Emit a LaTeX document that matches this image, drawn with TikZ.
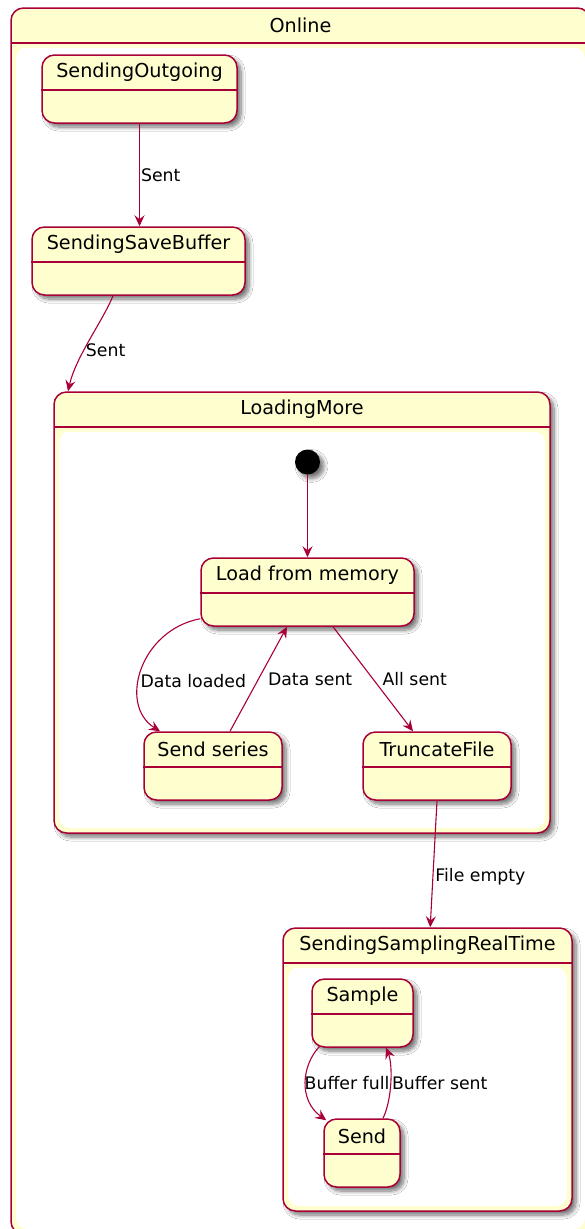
\documentclass[tikz,border=0pt]{standalone}
\usepackage{fontspec}
\setmainfont{DejaVu Sans}
\usetikzlibrary{arrows.meta,shadows.blur}
\definecolor{umlfill}{HTML}{FEFECE}
\definecolor{umlline}{HTML}{A80036}

% one simple state: name, left, top, right, title
\newcommand{\umlstate}[5]{%
  \node[statebox, minimum width={(#4-#2)*1pt}] (#1) at ({(#2+#4)/2},#3+34) {};
  \draw[divider] ([yshift=-35.5pt]#1.north west) -- ([yshift=-35.5pt]#1.north east);
  \node[title] at ([yshift=-18pt]#1.north) {#5};
}
% one composite state: name, left, top, right, bottom, title
\newcommand{\compositestate}[6]{%
  \node[compbox, minimum width={(#4-#2)*1pt}, minimum height={(#5-#3)*1pt}]
    (#1) at ({(#2+#4)/2},{(#3+#5)/2}) {};
  \fill[white, rounded corners=11pt] (#2+5,#3+39.5) rectangle (#4-5,#5-5);
  \draw[divider] (#2,#3+35) -- (#4,#3+35);
  \node[title] at ({(#2+#4)/2},#3+17.5) {#6};
}

\begin{document}
\begin{tikzpicture}[x=1pt, y=-1pt]
  % Style definitions
  \tikzset{
    umlshadow/.style={blur shadow={shadow xshift=4pt, shadow yshift=-4pt,
        shadow blur radius=4pt, shadow blur steps=8, shadow opacity=55}},
    statebox/.style={draw=umlline, fill=umlfill, line width=1.5pt,
        rounded corners=12.5pt, minimum height=68pt, inner sep=0pt, umlshadow},
    compbox/.style={draw=umlline, fill=umlfill, line width=1.5pt,
        rounded corners=12.5pt, inner sep=0pt, umlshadow},
    divider/.style={draw=umlline, line width=1.5pt},
    title/.style={font=\fontsize{19.2}{23}\selectfont, inner sep=0pt},
    initdot/.style={circle, fill=black, minimum size=25pt, inner sep=0pt, umlshadow},
    arr/.style={draw=umlline, line width=1.1pt,
        -{Stealth[length=11pt, width=10pt, inset=4pt]}},
    lbl/.style={font=\fontsize{17.3}{20}\selectfont, inner sep=1pt},
  }
  \path[use as bounding box] (0,0) rectangle (585,1229);
  \clip (0,0) rectangle (585,1229);

  % outer frame
  \compositestate{online}{11}{8}{590}{1234}{Online}

  % top states
  \umlstate{so}{42}{55}{237}{SendingOutgoing}
  \umlstate{ssb}{32}{227}{245}{SendingSaveBuffer}

  % loading block with its sub states
  \compositestate{lm}{54}{392}{550}{833}{LoadingMore}
  \node[initdot] (init) at (307.5,462) {};
  \umlstate{lfm}{201}{558}{414}{Load from memory}
  \umlstate{ss}{144}{732}{282}{Send series}
  \umlstate{tf}{363}{732}{511}{TruncateFile}

  % real time block
  \compositestate{ssrt}{283}{928}{572}{1211}{SendingSamplingRealTime}
  \umlstate{smp}{312}{979}{413}{Sample}
  \umlstate{snd}{324}{1119}{400}{Send}

  % transitions
  \draw[arr] (so.south) -- (so.south |- ssb.north)
    node[lbl, midway, right=0pt] {Sent};
  \draw[arr] ([xshift=-25.5pt]ssb.south) .. controls +(-10,25) and +(8,-35) ..
    ([xshift=-234pt]lm.north) node[lbl, pos=0.6, right=0pt] {Sent};
  \draw[arr] (init.south) -- (lfm.north);
  \draw[arr] ([yshift=8pt]lfm.south west) .. controls (140,630) and (118,705) ..
    ([xshift=-53pt]ss.north) node[lbl, pos=0.58, right=0pt] {Data loaded};
  \draw[arr] ([xshift=17pt]ss.north) -- ([xshift=-20.5pt]lfm.south)
    node[lbl, midway, right=8pt] {Data sent};
  \draw[arr] ([xshift=25.5pt]lfm.south) -- ([xshift=-24pt]tf.north)
    node[lbl, midway, right=8pt] {All sent};
  \draw[arr] (tf.south) -- ([xshift=2.7pt]ssrt.north)
    node[lbl, pos=0.6, right=1pt] {File empty};
  \draw[arr] ([shift={(8pt,1pt)}]smp.south west) .. controls (302,1065) and (298,1100) ..
    ([shift={(3pt,-2pt)}]snd.north west) node[lbl, pos=0.5, right=-2.5pt] {Buffer full};
  \draw[arr] ([xshift=21pt]snd.north) .. controls (392,1100) and (393,1065) ..
    ([xshift=23.5pt]smp.south) node[lbl, pos=0.5, right=0pt] {Buffer sent};
\end{tikzpicture}
\end{document}
